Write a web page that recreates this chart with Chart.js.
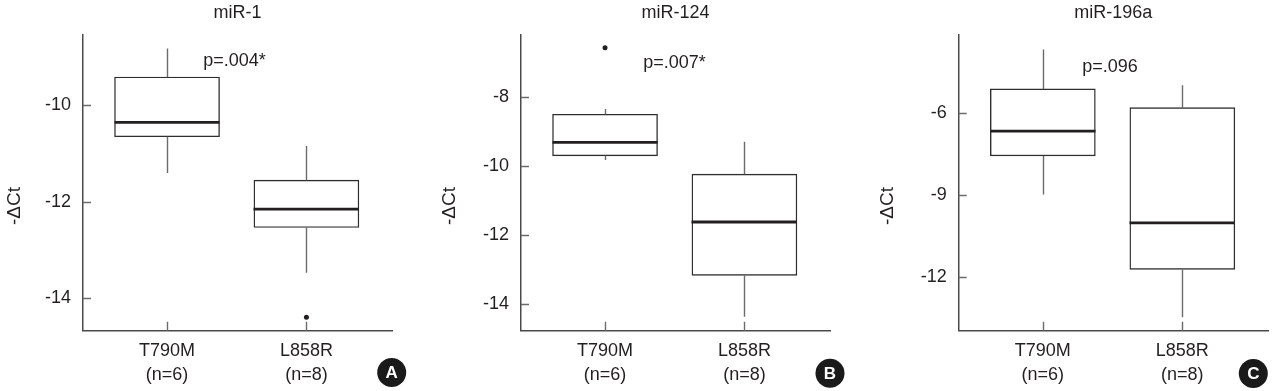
<!DOCTYPE html>
<html>
<head>
<meta charset="utf-8">
<script src="https://cdn.jsdelivr.net/npm/chart.js@4/dist/chart.umd.min.js"></script>
<style>
  html, body { margin: 0; padding: 0; background: #ffffff; }
  #wrap { position: relative; width: 1273px; height: 391px; overflow: hidden; background: #fff; }
  canvas { position: absolute; top: 0; }
</style>
</head>
<body>
<div id="wrap">
  <canvas id="cA" width="420" height="391" style="left:0px"></canvas>
  <canvas id="cB" width="430" height="391" style="left:420px"></canvas>
  <canvas id="cC" width="423" height="391" style="left:850px"></canvas>
</div>
<script>
// ---------- DATA ----------
const categories = ['T790M', 'L858R'];
const nLabels = ['(n=6)', '(n=8)'];
const titles = ['miR-1', 'miR-124', 'miR-196a'];
const pValues = ['p=.004*', 'p=.007*', 'p=.096'];
const panelLetters = ['A', 'B', 'C'];
const yAxisTitle = '-ΔCt';

// [lower whisker, Q1, median, Q3, upper whisker]
const miR1_T790M = [-11.40, -10.65, -10.35, -9.41, -8.82];
const miR1_L858R = [-13.47, -12.53, -12.15, -11.55, -10.84];
const miR1_outliers = [[], [-14.39]];

const miR124_T790M = [-9.83, -9.71, -9.32, -8.51, -8.36];
const miR124_L858R = [-14.36, -13.16, -11.62, -10.24, -9.30];
const miR124_outliers = [[-6.59], []];

const miR196a_T790M = [-8.98, -7.56, -6.65, -5.10, -3.65];
const miR196a_L858R = [-13.49, -11.73, -10.02, -5.79, -4.97];
const miR196a_outliers = [[], []];

const miR1_ticks = [-14, -12, -10];
const miR124_ticks = [-14, -12, -10, -8];
const miR196a_ticks = [-12, -9, -6];

// ---------- STYLE ----------
const FONT = '"Liberation Sans", Arial, Helvetica, sans-serif';
const TEXT = '#231f20';
const AXIS = '#4a4a4a';
const WHISK = '#6b6b6b';
const BOXW = 105;

const panels = [
  { id: 'cA', chartLeft: 83, padRight: 28, yMin: -14.67, yMax: -8.54, ticks: miR1_ticks,
    stats: [miR1_T790M, miR1_L858R], outliers: miR1_outliers,
    title: titles[0], p: pValues[0], letter: panelLetters[0],
    pOff: [120.3, 31], yTitleX: 14.5, badge: [391.7, 372.5] },
  { id: 'cB', chartLeft: 101, padRight: 20, yMin: -14.76, yMax: -6.22, ticks: miR124_ticks,
    stats: [miR124_T790M, miR124_L858R], outliers: miR124_outliers,
    title: titles[1], p: pValues[1], letter: panelLetters[1],
    pOff: [122.3, 32.7], yTitleX: 30, badge: [410, 373.3] },
  { id: 'cC', chartLeft: 108.7, padRight: 5, yMin: -13.98, yMax: -3.12, ticks: miR196a_ticks,
    stats: [miR196a_T790M, miR196a_L858R], outliers: miR196a_outliers,
    title: titles[2], p: pValues[2], letter: panelLetters[2],
    pOff: [123.6, 36.7], yTitleX: 37.5, badge: [403.3, 373.5] }
];

function makePlugin(P) {
  return {
    id: 'boxExtras_' + P.id,
    afterDatasetsDraw(chart) {
      const ctx = chart.ctx, xs = chart.scales.x, ys = chart.scales.y;
      ctx.save();
      P.stats.forEach((s, i) => {
        const px = Math.round(xs.getPixelForValue(i + 1)) + 0.5;
        ctx.strokeStyle = WHISK;
        ctx.lineWidth = 1.4;
        ctx.beginPath();
        ctx.moveTo(px, ys.getPixelForValue(s[0]));
        ctx.lineTo(px, ys.getPixelForValue(s[1]));
        ctx.moveTo(px, ys.getPixelForValue(s[3]));
        ctx.lineTo(px, ys.getPixelForValue(s[4]));
        ctx.stroke();
        ctx.strokeStyle = TEXT;
        ctx.lineWidth = 2.8;
        const my = ys.getPixelForValue(s[2]);
        ctx.beginPath();
        ctx.moveTo(px - BOXW / 2 - 0.5, my);
        ctx.lineTo(px + BOXW / 2 - 0.5, my);
        ctx.stroke();
      });
      ctx.restore();
    },
    afterDraw(chart) {
      const ctx = chart.ctx, xs = chart.scales.x, ys = chart.scales.y, ca = chart.chartArea;
      ctx.save();
      ctx.strokeStyle = WHISK;
      ctx.lineWidth = 1.4;
      ctx.beginPath();
      categories.forEach((c, i) => {
        const px = Math.round(xs.getPixelForValue(i + 1)) + 0.5;
        ctx.moveTo(px, ca.bottom);
        ctx.lineTo(px, ca.bottom - 9);
      });
      P.ticks.forEach(v => {
        const py = Math.round(ys.getPixelForValue(v)) + 0.5;
        ctx.moveTo(ca.left, py);
        ctx.lineTo(ca.left + 8, py);
      });
      ctx.stroke();
      ctx.fillStyle = TEXT;
      ctx.font = '18px ' + FONT;
      ctx.textAlign = 'center';
      ctx.textBaseline = 'alphabetic';
      ctx.fillText(P.title, (ca.left + ca.right) / 2, 18);
      ctx.textAlign = 'left';
      ctx.fillText(P.p, ca.left + P.pOff[0], ca.top + P.pOff[1]);
      ctx.save();
      ctx.translate(P.yTitleX, 206);
      ctx.rotate(-Math.PI / 2);
      ctx.textAlign = 'center';
      ctx.textBaseline = 'middle';
      ctx.font = '19px ' + FONT;
      ctx.fillText(yAxisTitle, 0, 0);
      ctx.restore();
      ctx.fillStyle = '#1a1a1a';
      ctx.beginPath();
      ctx.arc(P.badge[0], P.badge[1], 14.5, 0, Math.PI * 2);
      ctx.fill();
      ctx.fillStyle = '#ffffff';
      ctx.font = 'bold 17px ' + FONT;
      ctx.textAlign = 'center';
      ctx.textBaseline = 'middle';
      ctx.fillText(P.letter, P.badge[0], P.badge[1] + 1);
      ctx.restore();
    }
  };
}

panels.forEach(P => {
  const boxData = P.stats.map((s, i) => ({ x: i + 1, y: [s[1], s[3]] }));
  const outData = [];
  P.outliers.forEach((arr, i) => arr.forEach(v => outData.push({ x: i + 1, y: v })));
  new Chart(document.getElementById(P.id), {
    type: 'bar',
    data: {
      datasets: [
        { type: 'bar', data: boxData, backgroundColor: '#ffffff', borderColor: '#2e2e2e',
          borderWidth: 1.4, borderSkipped: false, barThickness: BOXW, grouped: false },
        { type: 'scatter', data: outData, pointRadius: 2.5, pointBackgroundColor: TEXT,
          pointBorderWidth: 0, showLine: false }
      ]
    },
    options: {
      responsive: false,
      animation: false,
      devicePixelRatio: 1,
      layout: { padding: { top: 35, left: 0, right: P.padRight, bottom: 0 } },
      plugins: { legend: { display: false }, tooltip: { enabled: false }, title: { display: false } },
      scales: {
        x: {
          type: 'linear', min: 0.397, max: 2.614, offset: false, bounds: 'data',
          afterBuildTicks: s => { s.ticks = categories.map((c, i) => ({ value: i + 1 })); },
          afterFit: s => { s.height = 60.3; },
          grid: { display: false, offset: false, drawTicks: false, tickLength: 0 },
          border: { display: true, color: AXIS, width: 1.5 },
          ticks: {
            autoSkip: false, maxRotation: 0, padding: 8, color: TEXT,
            font: { family: FONT, size: 18, lineHeight: 1.33 },
            callback: v => [categories[v - 1], nLabels[v - 1]]
          }
        },
        y: {
          min: P.yMin, max: P.yMax,
          afterBuildTicks: s => { s.ticks = P.ticks.map(v => ({ value: v })); },
          afterFit: s => { s.width = P.chartLeft; },
          grid: { display: false, drawTicks: false, tickLength: 0 },
          border: { display: true, color: AXIS, width: 1.5 },
          ticks: { padding: 12, color: TEXT, font: { family: FONT, size: 18 },
            callback: v => String(v) }
        }
      }
    },
    plugins: [makePlugin(P)]
  });
});
</script>
</body>
</html>
